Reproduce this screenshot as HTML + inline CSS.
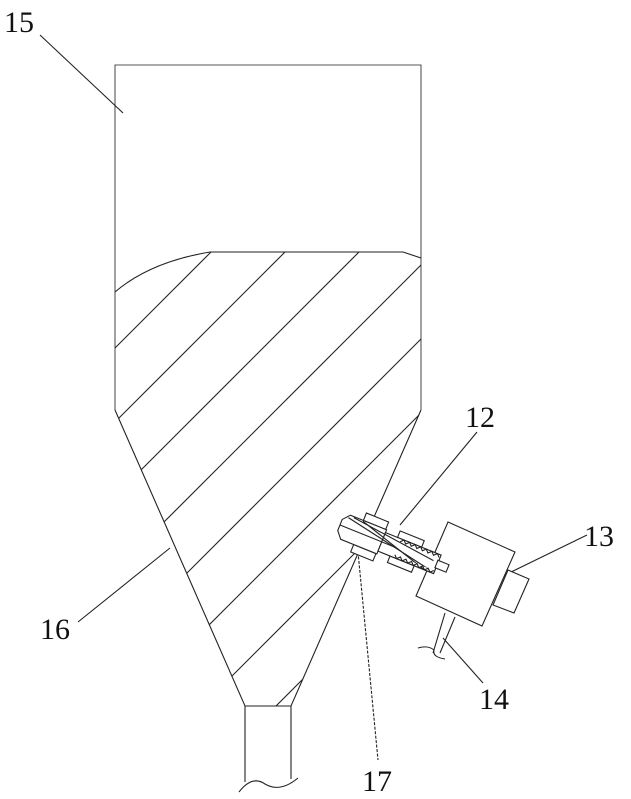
<!DOCTYPE html>
<html><head><style>
html,body{margin:0;padding:0;background:#fff;}
svg{display:block;}
text{font-family:"Liberation Serif",serif;font-size:30px;fill:#111;}
</style></head><body>
<svg width="631" height="799" viewBox="0 0 631 799" xmlns="http://www.w3.org/2000/svg">
<defs>
<clipPath id="fill">
<path d="M115,292 Q150,262 210,252 L403,252 L421,258 L421,410 L291,706 L245,706 L115,410 Z"/>
</clipPath>
</defs>
<g stroke="#222" stroke-width="1.1" fill="none">
<path d="M115,410 L115,65 L421,65 L421,410" stroke="#555"/>
<path d="M115,410 L245,706 L291,706 L421,410"/>
<path d="M245,706 L245,782 M291,706 L291,779"/>
<path d="M239,792 Q252,775 265,784 Q280,793 298,778"/>
<path d="M115,292 Q150,262 210,252 L403,252 L421,258"/>
<g clip-path="url(#fill)">
<line x1="-337" y1="800" x2="463" y2="0"/>
<line x1="-263" y1="800" x2="537" y2="0"/>
<line x1="-189" y1="800" x2="611" y2="0"/>
<line x1="-114" y1="800" x2="686" y2="0"/>
<line x1="-40" y1="800" x2="760" y2="0"/>
<line x1="34" y1="800" x2="834" y2="0"/>
<line x1="108" y1="800" x2="908" y2="0"/>
<line x1="182" y1="800" x2="982" y2="0"/>
<line x1="256" y1="800" x2="1056" y2="0"/>
</g>
<line x1="40" y1="35" x2="123" y2="113"/>
<line x1="477" y1="432" x2="400" y2="525"/>
<line x1="587" y1="535" x2="505" y2="575"/>
<line x1="483" y1="683" x2="443" y2="638"/>
<line x1="78" y1="622" x2="170" y2="548"/>
<line x1="358" y1="552" x2="378" y2="760" stroke-dasharray="3,1.5"/>
<polygon points="448,522 515,552 482,626 416,596" fill="#fff"/>
<polygon points="508,570 529,579 514,613 493,605" fill="#fff"/>
<line x1="445" y1="613" x2="433" y2="653"/>
<line x1="455" y1="617" x2="440" y2="653"/>
<path d="M418,648 Q428,645 434,650 Q432,657 445,659"/>
<g transform="translate(340,525) rotate(22)" fill="#fff">
<rect x="20" y="-21" width="24" height="8"/>
<rect x="20" y="13" width="24" height="8"/>
<rect x="58" y="-17" width="26" height="7"/>
<rect x="58" y="10" width="26" height="7"/>
<path d="M0,-6 L6,-13 L45,-13 L45,13 L6,13 L0,6 Z"/>
<rect x="45" y="-10" width="60" height="20"/>
<rect x="104" y="-4" width="12" height="8"/>
<line x1="0" y1="0" x2="60" y2="0"/>
<line x1="5" y1="-10" x2="100" y2="8"/>
<line x1="10" y1="-12" x2="100" y2="-2"/>
<line x1="20" y1="-12" x2="95" y2="10"/>
<path d="M62,-7 l3,-3 l3,3 l3,-3 l3,3 l3,-3 l3,3 l3,-3 l3,3 l3,-3 l3,3 l3,-3 l3,3 l3,-3 l3,3 M62,7 l3,3 l3,-3 l3,3 l3,-3 l3,3 l3,-3 l3,3 l3,-3 l3,3 l3,-3 l3,3 l3,-3 l3,3 l3,-3"/>
</g>
</g>
<text x="4" y="32">15</text>
<text x="465" y="427">12</text>
<text x="584" y="546">13</text>
<text x="40" y="639">16</text>
<text x="479" y="709">14</text>
<text x="362" y="791">17</text>
</svg>
</body></html>
